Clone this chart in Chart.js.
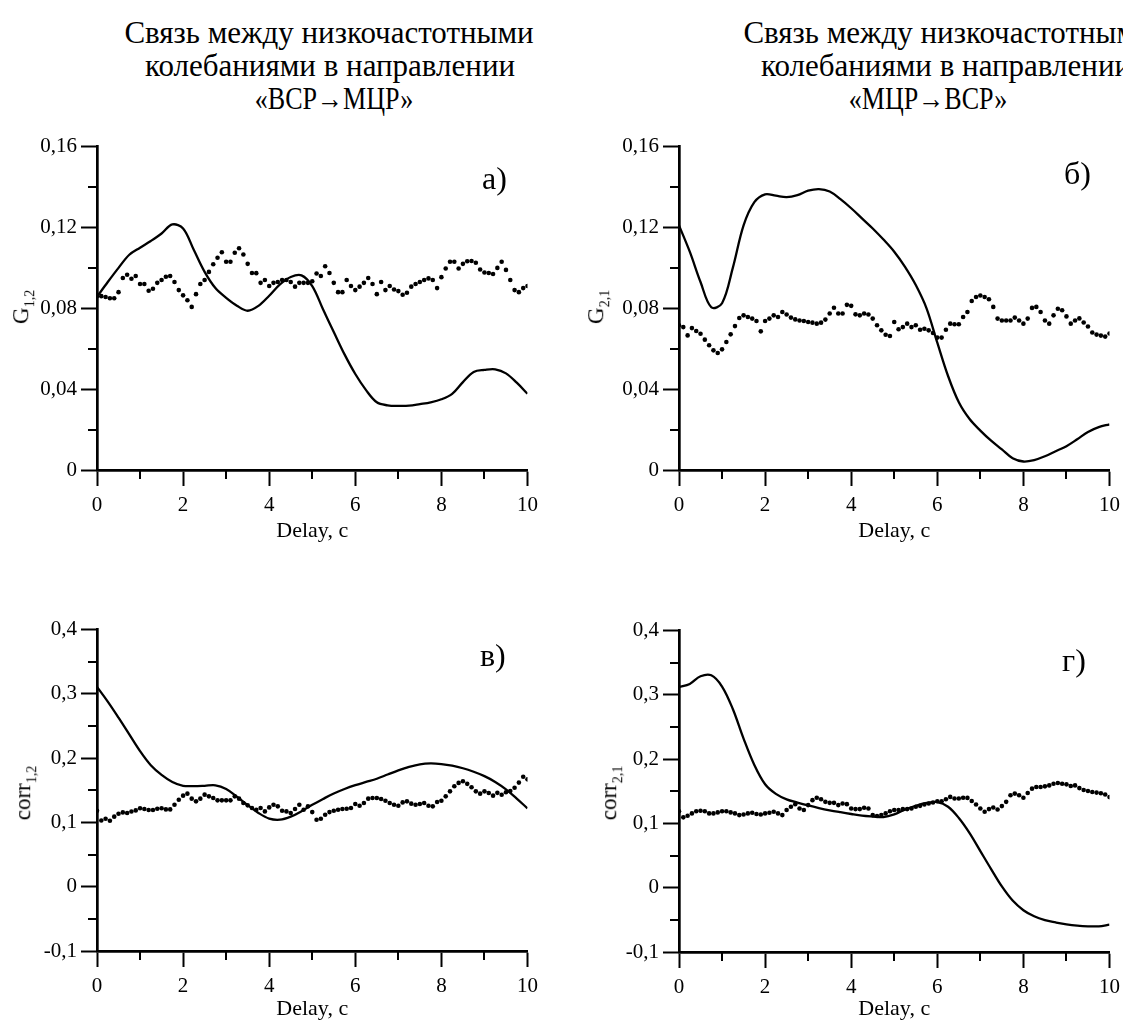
<!DOCTYPE html>
<html>
<head>
<meta charset="utf-8">
<script src="https://cdn.jsdelivr.net/npm/chart.js@4.4.1/dist/chart.umd.min.js"></script>
<style>
	html, body { margin: 0; padding: 0; background: #fff; }
	body { width: 1123px; height: 1022px; overflow: hidden; position: relative; font-family: "Liberation Serif", "Times New Roman", serif; color: #000; }
	canvas { position: absolute; }
	.title { position: absolute; font-size: 31px; line-height: 33px; white-space: nowrap; transform: translateX(-50%); }
	.title.arrow { transform: translateX(-50%) scaleX(0.84); }
	.ylab { position: absolute; font-size: 23px; line-height: 1; white-space: nowrap; transform: translate(-50%, -50%) rotate(-90deg); }
	.ylab sub { font-size: 14px; }
	.tag { position: absolute; font-size: 32px; line-height: 1; transform: translateY(-50%); }
</style>
</head>
<body>
<div class="title" style="left:329px; top:16px;">Связь между низкочастотными</div>
<div class="title" style="left:330px; top:49px;">колебаниями в направлении</div>
<div class="title arrow" style="left:334px; top:82px;">«ВСР→МЦР»</div>
<div class="title" style="left:948px; top:16px;">Связь между низкочастотными</div>
<div class="title" style="left:946px; top:49px;">колебаниями в направлении</div>
<div class="title arrow" style="left:928px; top:82px;">«МЦР→ВСР»</div>

<canvas id="chartA" width="545" height="414" style="left:0px; top:130px;"></canvas>
<canvas id="chartB" width="545" height="414" style="left:582px; top:130px;"></canvas>
<canvas id="chartC" width="545" height="409" style="left:0px; top:613px;"></canvas>
<canvas id="chartD" width="545" height="408" style="left:582px; top:614px;"></canvas>

<div class="ylab" style="left:23px; top:307px;">G<sub>1,2</sub></div>
<div class="ylab" style="left:598px; top:307px;">G<sub>2,1</sub></div>
<div class="ylab" style="left:25px; top:793px;">corr<sub>1,2</sub></div>
<div class="ylab" style="left:611px; top:793px;">corr<sub>2,1</sub></div>

<div class="tag" style="left:482px; top:178px;">а)</div>
<div class="tag" style="left:1064px; top:173px;">б)</div>
<div class="tag" style="left:480px; top:655px;">в)</div>
<div class="tag" style="left:1062px; top:660px;">г)</div>

<script>
// delay grids (s)
const delaySolid = Array.from({ length: 41 }, (_, i) => i * 0.25);
const delayDots = Array.from({ length: 101 }, (_, i) => i * 0.1);

// G 1,2 (ВСР→МЦР)
const gSolid12 = [0.0857, 0.093, 0.100, 0.1065, 0.110, 0.1133, 0.117, 0.1215, 0.1195, 0.1088,
	0.098, 0.090, 0.0852, 0.0813, 0.0788, 0.0812, 0.0862, 0.0918, 0.0955, 0.0963,
	0.091, 0.0795, 0.0683, 0.0572, 0.0475, 0.0395, 0.0335, 0.032, 0.0317, 0.0318,
	0.0326, 0.0335, 0.035, 0.0377, 0.0435, 0.0485, 0.0495, 0.0498, 0.0478, 0.0432, 0.0377];
const gDots12 = [0.086, 0.086, 0.0856, 0.085, 0.085, 0.088, 0.095, 0.0966, 0.0946, 0.096,
	0.092, 0.092, 0.0887, 0.0897, 0.0926, 0.094, 0.0956, 0.096, 0.093, 0.089,
	0.0864, 0.084, 0.0807, 0.087, 0.092, 0.094, 0.098, 0.1018, 0.105, 0.1077,
	0.103, 0.103, 0.1075, 0.1097, 0.1066, 0.102, 0.0975, 0.0974, 0.0926, 0.094,
	0.091, 0.0926, 0.093, 0.094, 0.094, 0.093, 0.0907, 0.0926, 0.0926, 0.0926,
	0.0934, 0.0972, 0.096, 0.1008, 0.0975, 0.0926, 0.088, 0.088, 0.094, 0.091,
	0.089, 0.0907, 0.0926, 0.095, 0.092, 0.087, 0.093, 0.089, 0.091, 0.0893,
	0.0885, 0.0867, 0.0877, 0.0907, 0.092, 0.093, 0.094, 0.0948, 0.094, 0.090,
	0.0954, 0.0997, 0.103, 0.103, 0.0997, 0.102, 0.1033, 0.1034, 0.1025, 0.0992,
	0.0977, 0.0975, 0.097, 0.100, 0.103, 0.099, 0.094, 0.089, 0.088, 0.090, 0.091];

// G 2,1 (МЦР→ВСР)
const gSolid21 = [0.121, 0.108, 0.093, 0.0805, 0.0825, 0.100, 0.121, 0.1325, 0.1364, 0.1357,
	0.135, 0.136, 0.1382, 0.139, 0.1378, 0.134, 0.1295, 0.1245, 0.1195, 0.114,
	0.108, 0.1005, 0.0915, 0.080, 0.063, 0.0465, 0.0335, 0.0252, 0.0195, 0.0145,
	0.0102, 0.0058, 0.0042, 0.0049, 0.0068, 0.0093, 0.0118, 0.0152, 0.0188, 0.0212, 0.0226];
const gDots21 = [0.0716, 0.0707, 0.0666, 0.0702, 0.0688, 0.0674, 0.0645, 0.0617, 0.0592, 0.0579,
	0.0597, 0.0633, 0.0671, 0.0712, 0.0752, 0.0765, 0.0757, 0.0749, 0.0737, 0.0686,
	0.0737, 0.0749, 0.0765, 0.0757, 0.0782, 0.0769, 0.0754, 0.0745, 0.074, 0.0737,
	0.0732, 0.0729, 0.0724, 0.0729, 0.0744, 0.0774, 0.0803, 0.0774, 0.0774, 0.0817,
	0.0812, 0.077, 0.0765, 0.0774, 0.0769, 0.0749, 0.0716, 0.0691, 0.0669, 0.0663,
	0.0732, 0.0696, 0.0707, 0.0724, 0.0707, 0.0716, 0.0694, 0.0699, 0.0691, 0.0678,
	0.0655, 0.0655, 0.0694, 0.0724, 0.0721, 0.0721, 0.0757, 0.0782, 0.0836, 0.0856,
	0.0863, 0.0856, 0.0845, 0.0807, 0.0749, 0.074, 0.074, 0.074, 0.0754, 0.074,
	0.0724, 0.0749, 0.0802, 0.0807, 0.0782, 0.074, 0.0724, 0.0765, 0.0798, 0.079,
	0.076, 0.0724, 0.074, 0.075, 0.073, 0.071, 0.068, 0.067, 0.0665, 0.066, 0.0675];

// corr 1,2
const corrSolid12 = [0.311, 0.288, 0.263, 0.237, 0.211, 0.189, 0.174, 0.163, 0.157, 0.1565,
	0.157, 0.1578, 0.152, 0.140, 0.127, 0.1148, 0.106, 0.1043, 0.109, 0.1175,
	0.1275, 0.1365, 0.145, 0.152, 0.158, 0.163, 0.168, 0.1745, 0.181, 0.1865,
	0.1905, 0.1918, 0.1908, 0.1883, 0.1843, 0.1788, 0.172, 0.163, 0.1515, 0.137, 0.122];
const corrDots12 = [0.118, 0.103, 0.1057, 0.1026, 0.109, 0.1135, 0.1156, 0.1146, 0.117, 0.1187,
	0.122, 0.1208, 0.1193, 0.1193, 0.1213, 0.122, 0.1203, 0.1203, 0.1276, 0.1354,
	0.1417, 0.1448, 0.137, 0.1328, 0.137, 0.1432, 0.1406, 0.138, 0.1344, 0.1344,
	0.1344, 0.1344, 0.1406, 0.137, 0.1302, 0.1266, 0.1224, 0.1198, 0.1224, 0.1172,
	0.1234, 0.1276, 0.125, 0.1182, 0.1172, 0.1146, 0.1208, 0.1276, 0.1198, 0.125,
	0.1161, 0.1042, 0.1057, 0.112, 0.1161, 0.1182, 0.1198, 0.1208, 0.1213, 0.1224,
	0.1286, 0.126, 0.1302, 0.137, 0.138, 0.138, 0.1365, 0.1338, 0.1302, 0.1276,
	0.126, 0.1312, 0.1328, 0.1292, 0.1276, 0.1286, 0.1302, 0.126, 0.125, 0.1318,
	0.1338, 0.1406, 0.1484, 0.1563, 0.1615, 0.164, 0.160, 0.1547, 0.1484, 0.1448,
	0.1484, 0.1458, 0.1417, 0.146, 0.143, 0.147, 0.149, 0.154, 0.162, 0.171, 0.167];

// corr 2,1
const corrSolid21 = [0.312, 0.317, 0.329, 0.3305, 0.313, 0.278, 0.232, 0.191, 0.161, 0.146,
	0.1375, 0.1325, 0.128, 0.124, 0.1205, 0.1175, 0.1147, 0.1122, 0.1108, 0.1098,
	0.114, 0.1215, 0.1275, 0.1318, 0.1332, 0.126, 0.1085, 0.085, 0.057, 0.029,
	0.002, -0.020, -0.035, -0.0445, -0.0505, -0.054, -0.057, -0.059, -0.060, -0.060, -0.0575];
const corrDots21 = [0.119, 0.1095, 0.112, 0.1156, 0.119, 0.1197, 0.119, 0.1156, 0.1156, 0.1172,
	0.119, 0.119, 0.1172, 0.1156, 0.113, 0.114, 0.1156, 0.1167, 0.1146, 0.114,
	0.1156, 0.1167, 0.1182, 0.1156, 0.113, 0.1208, 0.126, 0.130, 0.1233, 0.1208,
	0.1285, 0.1362, 0.140, 0.1377, 0.1336, 0.132, 0.132, 0.1285, 0.131, 0.130,
	0.1233, 0.1223, 0.1223, 0.1244, 0.1233, 0.113, 0.1115, 0.113, 0.1156, 0.119,
	0.1208, 0.1208, 0.1223, 0.1223, 0.1233, 0.126, 0.1274, 0.1295, 0.131, 0.1326,
	0.1346, 0.1346, 0.1377, 0.1413, 0.1387, 0.1387, 0.140, 0.1397, 0.135, 0.1295,
	0.1233, 0.1182, 0.1223, 0.1249, 0.1218, 0.127, 0.1336, 0.1438, 0.1464, 0.1438,
	0.140, 0.1474, 0.1541, 0.1567, 0.1567, 0.1577, 0.1592, 0.1618, 0.1628, 0.1618,
	0.1608, 0.1582, 0.1592, 0.155, 0.152, 0.1505, 0.149, 0.148, 0.147, 0.145, 0.141];

// axis ticks
const xMinorTicks = [1, 3, 5, 7, 9];
const gMinorTicks = [0.02, 0.06, 0.10, 0.14];
const corrMinorTicks = [-0.05, 0.05, 0.15, 0.25, 0.35];

const FONT = '"Liberation Serif", "Times New Roman", serif';

// short outward ticks between the labelled ones
const minorTicksPlugin = {
	id: 'minorTicks',
	afterDraw(chart, args, opts) {
		const ctx = chart.ctx;
		const xs = chart.scales.x;
		const ys = chart.scales.y;
		ctx.save();
		ctx.strokeStyle = '#000';
		ctx.lineWidth = 2;
		opts.x.forEach(v => {
			const px = Math.round(xs.getPixelForValue(v));
			ctx.beginPath();
			ctx.moveTo(px, xs.top);
			ctx.lineTo(px, xs.top + 9);
			ctx.stroke();
		});
		opts.y.forEach(v => {
			const py = Math.round(ys.getPixelForValue(v));
			ctx.beginPath();
			ctx.moveTo(ys.right, py);
			ctx.lineTo(ys.right - 9, py);
			ctx.stroke();
		});
		ctx.restore();
	}
};

function pairs(xs, ys) {
	return ys.map((y, i) => ({ x: xs[i], y: y }));
}

function makeChart(id, solid, dots, yMin, yMax, yStep, yDigits, yMinor, xHeight) {
	const ctx = document.getElementById(id).getContext('2d');
	return new Chart(ctx, {
		type: 'line',
		data: {
			datasets: [
				{
					data: pairs(delayDots, dots),
					showLine: false,
					pointRadius: 2.3,
					pointBackgroundColor: '#000',
					pointBorderWidth: 0
				},
				{
					data: pairs(delaySolid, solid),
					borderColor: '#000',
					borderWidth: 2.3,
					pointRadius: 0,
					tension: 0.35,
					fill: false
				}
			]
		},
		options: {
			responsive: false,
			animation: false,
			layout: { padding: { top: 13, right: 14, left: 0, bottom: 0 } },
			plugins: {
				legend: { display: false },
				tooltip: { enabled: false },
				minorTicks: { x: xMinorTicks, y: yMinor }
			},
			scales: {
				x: {
					type: 'linear',
					min: 0,
					max: 10,
					afterFit: s => { s.height = xHeight; },
					border: { display: true, color: '#000', width: 2.7 },
					grid: { drawOnChartArea: false, tickLength: 16, tickWidth: 2, tickColor: '#000' },
					ticks: { stepSize: 2, autoSkip: false, maxRotation: 0, padding: 7, color: '#000', font: { family: FONT, size: 21 } },
					title: { display: true, text: 'Delay, c', color: '#000', font: { family: FONT, size: 22 }, padding: { top: 0, bottom: 0 } }
				},
				y: {
					min: yMin,
					max: yMax,
					afterFit: s => { s.width = 97; },
					border: { display: true, color: '#000', width: 2.7 },
					grid: { drawOnChartArea: false, tickLength: 16, tickWidth: 2, tickColor: '#000' },
					ticks: {
						stepSize: yStep,
						padding: 4,
						color: '#000',
						font: { family: FONT, size: 21 },
						callback: v => Math.abs(v) < 1e-9 ? '0' : v.toFixed(yDigits).replace('.', ',')
					}
				}
			}
		},
		plugins: [minorTicksPlugin]
	});
}

makeChart('chartA', gSolid12, gDots12, 0, 0.16, 0.04, 2, gMinorTicks, 74);
makeChart('chartB', gSolid21, gDots21, 0, 0.16, 0.04, 2, gMinorTicks, 74);
makeChart('chartC', corrSolid12, corrDots12, -0.1, 0.4, 0.1, 1, corrMinorTicks, 71);
makeChart('chartD', corrSolid21, corrDots21, -0.1, 0.4, 0.1, 1, corrMinorTicks, 70);
</script>
</body>
</html>
